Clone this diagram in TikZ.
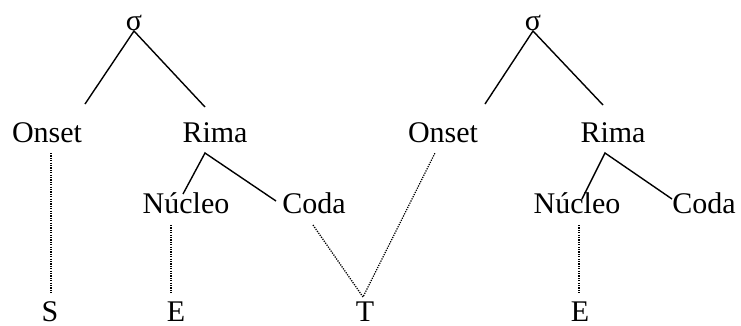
\documentclass[tikz,border=0pt]{standalone}
\usepackage{fontspec}
\setmainfont{Liberation Serif}
\begin{document}
\begin{tikzpicture}[x=1pt,y=-1pt,
  lab/.style={anchor=base,inner sep=0pt,font=\fontsize{30}{36}\selectfont},
  seg/.style={lab,text depth=0pt},
  br/.style={line width=1.4pt},
  dt/.style={line width=1.3pt,dash pattern=on 1.2pt off 1.2pt}]
\useasboundingbox (0,0) rectangle (741,325);
% left syllable
\node[lab] (sA) at (134,30) {σ};
\node[lab] (onA) at (47,142) {Onset};
\node[lab] (riA) at (215,142) {Rima};
\node[lab] (nuA) at (186,213) {Núcleo};
\node[lab] (coA) at (314,213) {Coda};
% right syllable
\node[lab] (sB) at (533,30) {σ};
\node[lab] (onB) at (443,142) {Onset};
\node[lab] (riB) at (613,142) {Rima};
\node[lab] (nuB) at (577,213) {Núcleo};
\node[lab] (coB) at (704,213) {Coda};
% segments
\node[seg] (S) at (50,321) {S};
\node[seg] (E1) at (176,321) {E};
\node[seg] (T) at (365,321) {T};
\node[seg] (E2) at (580,321) {E};
% attachment points
\coordinate (sAb) at (134,31);
\coordinate (onAt) at (85,104);
\coordinate (riAt) at (205,107);
\coordinate (riAb) at (205,153);
\coordinate (nuAt) at (183,194);
\coordinate (coAt) at (276,201);
\coordinate (onAb) at (51,153);
\coordinate (nuAb) at (171,225);
\coordinate (coAb) at (313,225);
\coordinate (St) at (51,293);
\coordinate (E1t) at (171,293);
\coordinate (Tt) at (363,297);
\coordinate (sBb) at (533,31);
\coordinate (onBt) at (485,104);
\coordinate (riBt) at (603,105);
\coordinate (riBb) at (605,153);
\coordinate (nuBt) at (582,199);
\coordinate (coBt) at (672,199);
\coordinate (onBb) at (435,153);
\coordinate (nuBb) at (579,225);
\coordinate (E2t) at (579,293);
% branches
\draw[br] (onAt) -- (sAb) -- (riAt);
\draw[br] (nuAt) -- (riAb) -- (coAt);
\draw[br] (onBt) -- (sBb) -- (riBt);
\draw[br] (nuBt) -- (riBb) -- (coBt);
% associations
\draw[dt] (onAb) -- (St);
\draw[dt] (nuAb) -- (E1t);
\draw[dt] (coAb) -- (Tt) -- (onBb);
\draw[dt] (nuBb) -- (E2t);
\end{tikzpicture}
\end{document}
